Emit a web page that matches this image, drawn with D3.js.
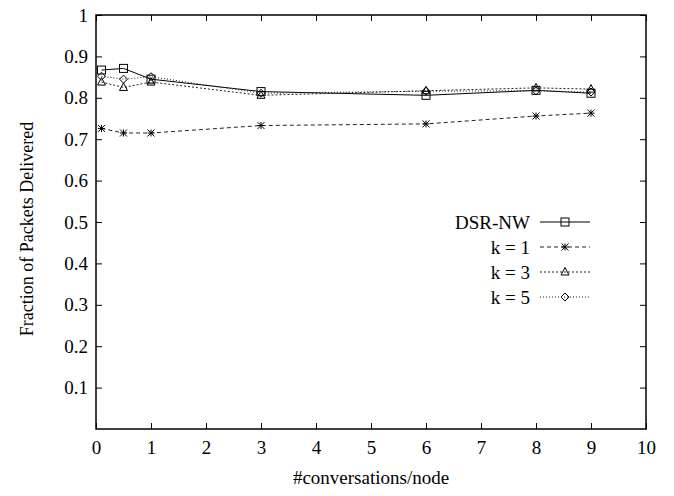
<!DOCTYPE html>
<html>
<head>
<meta charset="utf-8">
<script src="https://cdn.jsdelivr.net/npm/d3@7"></script>
<style>
  body { margin: 0; background: #fff; }
  svg { display: block; }
</style>
</head>
<body>
<svg id="chart" width="674" height="496"></svg>
<script>
// data
const conversations = [0.1, 0.5, 1, 3, 6, 8, 9];
const dsrNw = [0.867, 0.871, 0.845, 0.815, 0.806, 0.818, 0.811];
const k1 = [0.726, 0.715, 0.715, 0.733, 0.737, 0.756, 0.763];
const k3 = [0.838, 0.825, 0.838, 0.806, 0.817, 0.824, 0.821];
const k5 = [0.852, 0.845, 0.851, 0.811, 0.816, 0.817, 0.814];
const seriesNames = ['DSR-NW', 'k = 1', 'k = 3', 'k = 5'];
const xTicks = [0, 1, 2, 3, 4, 5, 6, 7, 8, 9, 10];
const yTicks = [0.1, 0.2, 0.3, 0.4, 0.5, 0.6, 0.7, 0.8, 0.9, 1];

const FONT = '"Liberation Serif", "Times New Roman", Times, serif';
const FS = '19px';

const margin = { top: 15, right: 28, bottom: 67, left: 96 };
const width = 674, height = 496;

const svg = d3.select('#chart');

const x = d3.scaleLinear().domain([0, 10]).range([margin.left, width - margin.right]);
const y = d3.scaleLinear().domain([0, 1]).range([height - margin.bottom, margin.top]);

const series = [
  { name: seriesNames[0], values: dsrNw, dash: null, marker: 'square' },
  { name: seriesNames[1], values: k1, dash: '4,3', marker: 'star' },
  { name: seriesNames[2], values: k3, dash: '2,2', marker: 'triangle' },
  { name: seriesNames[3], values: k5, dash: '1,2', marker: 'diamond' }
];

const tickLen = 6;

const styleText = sel => sel.style('font-family', FONT).style('font-size', FS).style('fill', '#000');

// x axis (bottom + mirrored top)
svg.append('g')
  .attr('transform', `translate(0,${y(0)})`)
  .call(d3.axisBottom(x).tickValues(xTicks).tickSize(-tickLen).tickPadding(12).tickFormat(d3.format('d')))
  .call(g => g.select('.domain').remove())
  .call(g => styleText(g.selectAll('.tick text')))
  .call(g => g.selectAll('.tick line').attr('stroke', '#000'));

svg.append('g')
  .attr('transform', `translate(0,${y(1)})`)
  .call(d3.axisTop(x).tickValues(xTicks).tickSize(-tickLen).tickFormat(''))
  .call(g => g.select('.domain').remove())
  .call(g => g.selectAll('.tick line').attr('stroke', '#000'));

// y axis (left + mirrored right)
svg.append('g')
  .attr('transform', `translate(${x(0)},0)`)
  .call(d3.axisLeft(y).tickValues(yTicks).tickSize(-tickLen).tickPadding(8).tickFormat(d => d === 1 ? '1' : d3.format('.1f')(d)))
  .call(g => g.select('.domain').remove())
  .call(g => styleText(g.selectAll('.tick text')))
  .call(g => g.selectAll('.tick line').attr('stroke', '#000'));

svg.append('g')
  .attr('transform', `translate(${x(10)},0)`)
  .call(d3.axisRight(y).tickValues(yTicks).tickSize(-tickLen).tickFormat(''))
  .call(g => g.select('.domain').remove())
  .call(g => g.selectAll('.tick line').attr('stroke', '#000'));

// frame
svg.append('rect')
  .attr('x', x(0)).attr('y', y(1))
  .attr('width', x(10) - x(0)).attr('height', y(0) - y(1))
  .attr('fill', 'none').attr('stroke', '#000').attr('stroke-width', 1.5);

// axis titles
svg.append('text')
  .attr('x', (x(0) + x(10)) / 2).attr('y', 484)
  .attr('text-anchor', 'middle')
  .call(styleText)
  .text('#conversations/node');

svg.append('text')
  .attr('transform', `translate(33,229) rotate(-90)`)
  .attr('text-anchor', 'middle')
  .call(styleText)
  .style('font-size', '18px')
  .text('Fraction of Packets Delivered');

function drawMarker(g, type, cx, cy) {
  const s = 4;
  if (type === 'square') {
    g.append('rect').attr('x', cx - s).attr('y', cy - s).attr('width', 2 * s).attr('height', 2 * s)
      .attr('fill', 'none').attr('stroke', '#000').attr('stroke-width', 1);
  } else if (type === 'star') {
    const a = 3.5;
    g.append('path')
      .attr('d', `M${cx - a},${cy}H${cx + a}M${cx},${cy - a}V${cy + a}M${cx - a},${cy - a}L${cx + a},${cy + a}M${cx - a},${cy + a}L${cx + a},${cy - a}`)
      .attr('stroke', '#000').attr('stroke-width', 1).attr('fill', 'none');
  } else if (type === 'triangle') {
    g.append('path')
      .attr('d', `M${cx},${cy - 4.5}L${cx + 4},${cy + 3}L${cx - 4},${cy + 3}Z`)
      .attr('fill', 'none').attr('stroke', '#000').attr('stroke-width', 1);
  } else if (type === 'diamond') {
    g.append('path')
      .attr('d', `M${cx},${cy - 4}L${cx + 4},${cy}L${cx},${cy + 4}L${cx - 4},${cy}Z`)
      .attr('fill', 'none').attr('stroke', '#000').attr('stroke-width', 1);
  }
}

const line = d3.line().x(d => x(d[0])).y(d => y(d[1]));

series.forEach(s => {
  const pts = conversations.map((c, i) => [c, s.values[i]]);
  svg.append('path')
    .datum(pts)
    .attr('d', line)
    .attr('fill', 'none')
    .attr('stroke', s.dash ? '#222' : '#000')
    .attr('stroke-width', 1)
    .attr('stroke-dasharray', s.dash);
  const g = svg.append('g');
  pts.forEach(p => drawMarker(g, s.marker, x(p[0]), y(p[1])));
});

// legend
const legend = svg.append('g');
series.forEach((s, i) => {
  const ly = 222 + i * 25;
  legend.append('text')
    .attr('x', 530).attr('y', ly).attr('dy', '0.35em')
    .attr('text-anchor', 'end')
    .call(styleText)
    .text(s.name);
  legend.append('line')
    .attr('x1', 540).attr('x2', 590).attr('y1', ly).attr('y2', ly)
    .attr('stroke', s.dash ? '#222' : '#000').attr('stroke-width', 1)
    .attr('stroke-dasharray', s.dash);
  drawMarker(legend, s.marker, 565, ly);
});
</script>
</body>
</html>
